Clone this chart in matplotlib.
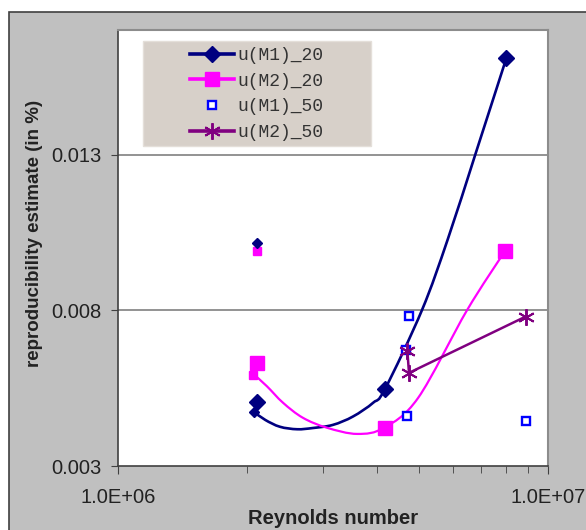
import numpy as np
import matplotlib
matplotlib.use('Agg')
import matplotlib.pyplot as plt
from matplotlib.path import Path
from matplotlib.patches import PathPatch, Rectangle
from matplotlib.lines import Line2D
from matplotlib.ticker import FixedLocator, NullFormatter

plt.rcParams['font.family'] = ['Liberation Sans', 'DejaVu Sans']

# data
# u(M1)_20 (big diamonds)
re_m1_20 = [2.11e6, 4.18e6, 7.99e6]
u_m1_20 = [0.00507, 0.00547, 0.0161]
# small diamonds at the low Reynolds number
re_m1_20_small = [2.07e6, 2.11e6]
u_m1_20_small = [0.00473, 0.01016]
# smoothed curve for u(M1)_20
re_m1_20_curve = [2.07e6, 2.20e6, 2.38e6, 2.61e6, 2.84e6, 3.16e6, 3.52e6, 3.92e6, 4.18e6,
                  5.09e6, 5.85e6, 6.80e6, 7.99e6]
u_m1_20_curve = [0.00474, 0.00448, 0.00426, 0.00418, 0.00422, 0.00432, 0.00459, 0.00503,
                 0.00548, 0.0080, 0.01029, 0.01307, 0.01607]

# u(M2)_20 (big squares)
re_m2_20 = [2.11e6, 4.17e6, 7.94e6]
u_m2_20 = [0.00631, 0.00422, 0.00991]
re_m2_20_small = [2.06e6, 2.11e6]
u_m2_20_small = [0.00591, 0.00989]
# smoothed curve for u(M2)_20
re_m2_20_curve = [2.07e6, 2.22e6, 2.42e6, 2.69e6, 3.06e6, 3.60e6, 4.16e6, 4.99e6, 6.48e6, 7.94e6]
u_m2_20_curve = [0.00594, 0.00556, 0.00503, 0.00455, 0.00423, 0.00403, 0.00423, 0.00519,
                 0.0080, 0.0099]

# u(M1)_50 (open squares)
re_m1_50 = [4.76e6, 4.68e6, 4.69e6, 8.87e6]
u_m1_50 = [0.00782, 0.00671, 0.00462, 0.00443]

# u(M2)_50 (asterisks)
re_m2_50 = [4.71e6, 4.75e6, 8.88e6]
u_m2_50 = [0.00669, 0.00599, 0.0078]

legend_labels = ['u(M1)_20', 'u(M2)_20', 'u(M1)_50', 'u(M2)_50']

navy = '#000080'
pink = '#ff00ff'
blue = '#0000ff'
purple = '#800080'
star = (6, 2, 0)


def smooth_path(xs, ys):
    # excel style smoothed line: bezier segments, done in log10(x) space
    pts = np.column_stack([np.log10(xs), ys])
    n = len(pts)
    verts = [pts[0]]
    codes = [Path.MOVETO]
    for i in range(n - 1):
        p0 = pts[max(i - 1, 0)]
        p1 = pts[i]
        p2 = pts[i + 1]
        p3 = pts[min(i + 2, n - 1)]
        verts += [p1 + (p2 - p0) / 6, p2 - (p3 - p1) / 6, p2]
        codes += [Path.CURVE4] * 3
    verts = np.array(verts)
    verts[:, 0] = 10 ** verts[:, 0]
    return Path(verts, codes)


fig = plt.figure(figsize=(5.86, 5.30), dpi=100, facecolor='white')

# gray chart area with dark border
fig.patches.append(Rectangle((9 / 586, -0.05), 1.0, (518 / 530) + 0.05,
                             transform=fig.transFigure, facecolor='#c0c0c0',
                             edgecolor='#404040', lw=1.2, zorder=-10))

ax = fig.add_axes([118 / 586, 64 / 530, 430 / 586, 436 / 530])
ax.set_zorder(1)
ax.set_facecolor('white')
ax.set_xscale('log')
ax.set_xlim(1e6, 1e7)
ax.set_ylim(0.003, 0.017)

# gridlines
for g in [0.008, 0.013]:
    ax.axhline(g, color='#808080', lw=1.2, zorder=1)

# smoothed lines
ax.add_patch(PathPatch(smooth_path(re_m1_20_curve, u_m1_20_curve), facecolor='none',
                       edgecolor=navy, lw=1.9, zorder=2))
ax.add_patch(PathPatch(smooth_path(re_m2_20_curve, u_m2_20_curve), facecolor='none',
                       edgecolor=pink, lw=1.6, zorder=2))
ax.plot(re_m2_50, u_m2_50, color=purple, lw=1.8, zorder=2)

# markers
ax.plot(re_m1_50, u_m1_50, linestyle='none', marker='s', markersize=5.5,
        markerfacecolor='white', markeredgecolor=blue, markeredgewidth=1.7, zorder=3)
ax.plot(re_m2_20_small, u_m2_20_small, linestyle='none', marker='s', markersize=6,
        color=pink, zorder=3)
ax.plot(re_m2_20, u_m2_20, linestyle='none', marker='s', markersize=10.5,
        color=pink, zorder=3)
ax.plot(re_m1_20_small, u_m1_20_small, linestyle='none', marker='D', markersize=5.5,
        color=navy, zorder=4)
ax.plot(re_m1_20, u_m1_20, linestyle='none', marker='D', markersize=8.5,
        color=navy, zorder=4)
ax.plot(re_m2_50, u_m2_50, linestyle='none', marker=star, markersize=12,
        markeredgecolor=purple, markeredgewidth=1.4, zorder=5)

# axes and ticks
ax.xaxis.set_major_locator(FixedLocator([1e6, 1e7]))
ax.set_xticklabels(['1.0E+06', '1.0E+07'])
ax.xaxis.set_minor_locator(FixedLocator([k * 1e6 for k in range(2, 10)]))
ax.xaxis.set_minor_formatter(NullFormatter())
ax.yaxis.set_major_locator(FixedLocator([0.003, 0.008, 0.013]))
ax.set_yticklabels(['0.003', '0.008', '0.013'])
ax.yaxis.set_minor_locator(FixedLocator([]))
ax.tick_params(axis='both', which='both', direction='out', color='#404040',
               labelsize=14.5, labelcolor='#222222')
ax.tick_params(axis='y', length=5, pad=7)
ax.tick_params(axis='x', which='major', length=6, pad=10)
ax.tick_params(axis='x', which='minor', length=5)

for s in ['left', 'bottom']:
    ax.spines[s].set_color('#404040')
    ax.spines[s].set_linewidth(1.2)
for s in ['top', 'right']:
    ax.spines[s].set_color('#8c8c8c')
    ax.spines[s].set_linewidth(1.5)

fig.text(333 / 586, (530 - 518) / 530, 'Reynolds number', ha='center', va='center',
         fontsize=14.5, fontweight='bold', color='#222222')
fig.text(35 / 586, (530 - 233) / 530, 'reproducibility estimate (in %)', ha='center',
         va='center', rotation=90, fontsize=13.5, fontweight='bold', color='#222222')

# legend box (drawn separately, items are centred in it)
ax.add_patch(Rectangle(((143 - 118) / 430, (466 - 146) / 436), 228 / 430, 105 / 436,
                       transform=ax.transAxes, facecolor='#d7d0c9', edgecolor='#e4dfd9',
                       lw=1, zorder=6))
handles = [
    Line2D([], [], color=navy, lw=2.6, marker='D', markersize=8),
    Line2D([], [], color=pink, lw=2.6, marker='s', markersize=10),
    Line2D([], [], linestyle='none', marker='s', markersize=5.5, markerfacecolor='white',
           markeredgecolor=blue, markeredgewidth=1.7),
    Line2D([], [], color=purple, lw=2.6, marker=star, markersize=12, markeredgewidth=1.4),
]
leg = ax.legend(handles, legend_labels, loc='upper left',
                bbox_to_anchor=((190 - 118) / 430, (466 - 47) / 436), borderaxespad=0,
                prop={'family': 'Liberation Mono', 'size': 13}, handlelength=2.44,
                handletextpad=0.17, labelspacing=0.48, borderpad=0, frameon=False)
leg.set_zorder(7)
for t in leg.get_texts():
    t.set_color('#333333')

fig.savefig('out.png', dpi=100)
